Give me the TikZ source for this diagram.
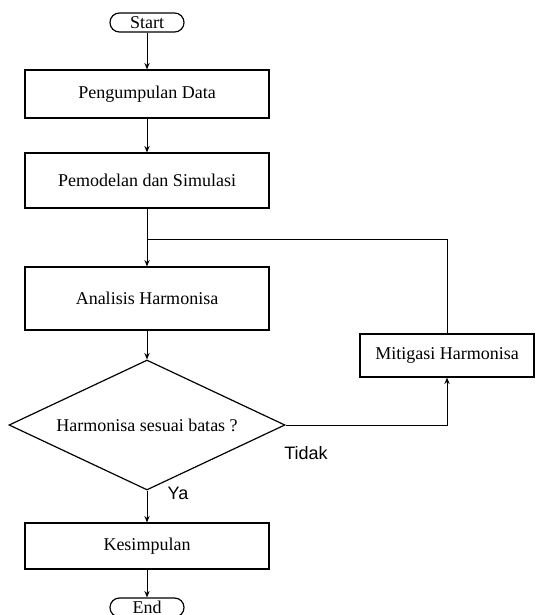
\documentclass[tikz,border=0pt]{standalone}
\usepackage{fontspec}
\setmainfont{Liberation Serif}
\newfontfamily\labelfont{Liberation Sans}
\usepackage{tikz}
\usetikzlibrary{arrows.meta}
\usetikzlibrary{shapes.geometric}
\usetikzlibrary{calc}
\usetikzlibrary{positioning}
\newcommand\linewd{.5pt}
\tikzset{>={Stealth[length=3.2pt,width=2.6pt]}}
\tikzset{
  flowline/.style={line width=\linewd},
  procbox/.style={rectangle, draw, line width=.6pt, minimum width=122pt, inner sep=0pt},
  termbox/.style={rectangle, draw, line width=.6pt, rounded corners=4.7pt,
    minimum width=37pt, minimum height=9.5pt, inner sep=0pt},
  choicebox/.style={diamond, draw, line width=.6pt, aspect=2.1,
    minimum width=138pt, minimum height=65pt, inner sep=0pt},
  answer/.style={font=\labelfont\fontsize{9}{11}\selectfont, inner sep=0pt}
}

\begin{document}
\begin{tikzpicture}[x=.5pt, y=-.5pt, font=\fontsize{9}{11}\selectfont]
  \useasboundingbox (0,0) rectangle (535,615);
  \draw (147,22.5) node[termbox] (start) {Start};
  \draw (147,94) node[procbox, minimum height=24pt] (data) {Pengumpulan Data};
  \draw (147,180.5) node[procbox, minimum height=27.5pt] (model) {Pemodelan dan Simulasi};
  \draw (147,298.5) node[procbox, minimum height=31.5pt] (analisis) {Analisis Harmonisa};
  \draw (147,425) node[choicebox] (cek) {Harmonisa sesuai batas ?};
  \draw (447,355.5) node[procbox, minimum width=87pt, minimum height=21.5pt] (mitigasi) {Mitigasi Harmonisa};
  \draw (147,546) node[procbox, minimum height=23pt] (simpul) {Kesimpulan};
  \draw (147,607.5) node[termbox] (end) {End};
  \coordinate (join) at (147,239);
  \draw (start) -- (data) [flowline, ->];
  \draw (data) -- (model) [flowline, ->];
  \draw (model) -- (analisis) [flowline, ->];
  \draw (analisis) -- (cek) [flowline, ->];
  \draw (cek.east) -| (mitigasi.south) [flowline, ->];
  \draw (mitigasi.north) |- (join) [flowline];
  \draw (cek) -- (simpul) [flowline, ->];
  \draw (simpul) -- (end) [flowline, ->];
  \draw (306,453) node[answer] (tidak) {Tidak};
  \draw (178,493) node[answer] (ya) {Ya};
\end{tikzpicture}
\end{document}
